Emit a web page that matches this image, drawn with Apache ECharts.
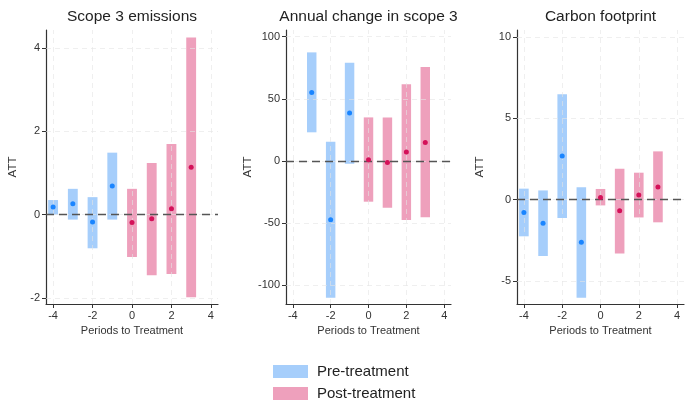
<!DOCTYPE html>
<html>
<head>
<meta charset="utf-8">
<script src="https://cdn.jsdelivr.net/npm/echarts@6/dist/echarts.min.js"></script>
<style>
html,body{margin:0;padding:0;background:#fff;}
#chart{width:685px;height:400px;}
</style>
</head>
<body>
<div id="chart"></div>
<script>
// ---- Data ----
const panelTitles = ['Scope 3 emissions', 'Annual change in scope 3', 'Carbon footprint'];
const xTickLabels = [-4, -2, 0, 2, 4];
const yTickLabels1 = [-2, 0, 2, 4];
const yTickLabels2 = [-100, -50, 0, 50, 100];
const yTickLabels3 = [-5, 0, 5, 10];

const scope3Periods = [-4, -3, -2, -1, 0, 1, 2, 3];
const scope3Att = [0.18, 0.26, -0.18, 0.69, -0.19, -0.10, 0.14, 1.14];
const scope3Lo  = [0.00, -0.12, -0.81, -0.12, -1.02, -1.46, -1.43, -1.99];
const scope3Hi  = [0.35, 0.62, 0.42, 1.49, 0.62, 1.24, 1.70, 4.26];

const annualPeriods = [-3, -2, -1, 0, 1, 2, 3];
const annualAtt = [55.2, -47.2, 38.6, 1.1, -1.1, 7.2, 15.0];
const annualLo  = [23.1, -109.9, -2.1, -32.7, -37.5, -47.5, -45.3];
const annualHi  = [87.4, 15.5, 79.1, 35.1, 35.1, 61.7, 75.6];

const carbonPeriods = [-4, -3, -2, -1, 0, 1, 2, 3];
const carbonAtt = [-0.78, -1.45, 2.68, -2.62, 0.14, -0.68, 0.29, 0.78];
const carbonLo  = [-2.25, -3.46, -1.13, -6.02, -0.35, -3.30, -1.09, -1.39];
const carbonHi  = [0.68, 0.57, 6.48, 0.76, 0.66, 1.91, 1.66, 2.97];

const legendNames = ['Pre-treatment', 'Post-treatment'];

// ---- Styling / layout ----
const FONT = 'Liberation Sans, Arial, Helvetica, sans-serif';
const barBlue = '#a6cefb';
const barPink = '#eea0bc';
const dotBlue = '#1a85ff';
const dotRed = '#d41159';
const gridColor = 'rgba(228,228,228,0.6)';

const panels = [
  {periods: scope3Periods, att: scope3Att, lo: scope3Lo, hi: scope3Hi, yTicks: yTickLabels1, ymin: -2.15, ymax: 4.44,
   grid: {left: 46, top: 30, width: 172, height: 274}, nameGap: 27},
  {periods: annualPeriods, att: annualAtt, lo: annualLo, hi: annualHi, yTicks: yTickLabels2, ymin: -115.0, ymax: 105.4,
   grid: {left: 286, top: 30, width: 165, height: 274}, nameGap: 32},
  {periods: carbonPeriods, att: carbonAtt, lo: carbonLo, hi: carbonHi, yTicks: yTickLabels3, ymin: -6.41, ymax: 10.43,
   grid: {left: 517, top: 30, width: 167, height: 274}, nameGap: 31}
];

const grids = [], xAxes = [], yAxes = [], series = [], titles = [];

function rangeRenderer(color) {
  return function (params, api) {
    const x = api.value(0), lo = api.value(1), hi = api.value(2);
    const top = api.coord([x, hi]);
    const bot = api.coord([x, lo]);
    const w = api.size([0.5, 0])[0];
    return {
      type: 'rect',
      shape: {x: top[0] - w / 2, y: top[1], width: w, height: bot[1] - top[1]},
      style: {fill: color}
    };
  };
}

panels.forEach((p, i) => {
  grids.push(Object.assign({containLabel: false}, p.grid));
  titles.push({
    text: panelTitles[i],
    left: p.grid.left + p.grid.width / 2,
    top: 9,
    textAlign: 'center',
    padding: 0,
    textStyle: {fontFamily: FONT, fontSize: 15.5, fontWeight: 'normal', color: '#222'}
  });
  xAxes.push({
    type: 'value', gridIndex: i, min: -4.36, max: 4.36,
    name: 'Periods to Treatment', nameLocation: 'middle', nameGap: 21,
    nameTextStyle: {fontFamily: FONT, fontSize: 11, color: '#333'},
    axisLine: {show: true, onZero: false, lineStyle: {color: '#333', width: 1.2}},
    axisTick: {show: true, length: 4, customValues: xTickLabels, lineStyle: {color: '#333', width: 1}},
    minorTick: {show: false},
    axisLabel: {customValues: xTickLabels, margin: 6, fontFamily: FONT, fontSize: 11, color: '#333'},
    splitLine: {show: false}
  });
  yAxes.push({
    type: 'value', gridIndex: i, min: p.ymin, max: p.ymax,
    name: 'ATT', nameLocation: 'middle', nameGap: p.nameGap, nameRotate: 90,
    nameTextStyle: {fontFamily: FONT, fontSize: 11.5, color: '#333'},
    axisLine: {show: true, onZero: false, lineStyle: {color: '#333', width: 1.2}},
    axisTick: {show: true, length: 4, customValues: p.yTicks, lineStyle: {color: '#333', width: 1}},
    minorTick: {show: false},
    axisLabel: {customValues: p.yTicks, margin: 6, fontFamily: FONT, fontSize: 11, color: '#333'},
    splitLine: {show: false}
  });

  const pre = [], post = [], preDots = [], postDots = [];
  p.periods.forEach((t, k) => {
    const row = [t, p.lo[k], p.hi[k]];
    if (t < 0) { pre.push(row); preDots.push([t, p.att[k]]); }
    else { post.push(row); postDots.push([t, p.att[k]]); }
  });

  series.push({
    name: legendNames[0], type: 'custom', xAxisIndex: i, yAxisIndex: i,
    renderItem: rangeRenderer(barBlue), itemStyle: {color: barBlue},
    encode: {x: 0, y: [1, 2]}, data: pre, z: 2, silent: true
  });
  series.push({
    name: legendNames[1], type: 'custom', xAxisIndex: i, yAxisIndex: i,
    renderItem: rangeRenderer(barPink), itemStyle: {color: barPink},
    encode: {x: 0, y: [1, 2]}, data: post, z: 2, silent: true
  });
  // light dashed gridlines at the tick values, drawn over the bars
  const gridData = xTickLabels.map(v => ({xAxis: v})).concat(p.yTicks.map(v => ({yAxis: v})));
  series.push({
    name: 'grid-' + i, type: 'scatter', xAxisIndex: i, yAxisIndex: i, data: [], z: 3, silent: true,
    markLine: {
      silent: true, symbol: 'none', animation: false, label: {show: false},
      lineStyle: {type: [5, 4], color: gridColor, width: 1},
      data: gridData
    }
  });
  series.push({
    name: 'pre-att-' + i, type: 'scatter', xAxisIndex: i, yAxisIndex: i,
    symbol: 'circle', symbolSize: 5, itemStyle: {color: dotBlue, opacity: 1},
    data: preDots, z: 5, silent: true
  });
  series.push({
    name: 'post-att-' + i, type: 'scatter', xAxisIndex: i, yAxisIndex: i,
    symbol: 'circle', symbolSize: 5, itemStyle: {color: dotRed, opacity: 1},
    data: postDots, z: 5, silent: true,
    markLine: {
      silent: true, symbol: 'none', animation: false,
      label: {show: false},
      lineStyle: {type: [8, 5], color: '#555', width: 1.3},
      data: [{yAxis: 0}]
    }
  });
});

const legendText = {fontFamily: FONT, fontSize: 15, color: '#222', padding: [0, 0, 0, 4]};
const chart = echarts.init(document.getElementById('chart'), null, {renderer: 'canvas'});
chart.setOption({
  animation: false,
  backgroundColor: '#ffffff',
  title: titles,
  grid: grids,
  xAxis: xAxes,
  yAxis: yAxes,
  legend: [
    {
      left: 273, top: 364, padding: 0, itemWidth: 35, itemHeight: 13,
      textStyle: legendText, selectedMode: false,
      data: [{name: legendNames[0], icon: 'rect', itemStyle: {color: barBlue}}]
    },
    {
      left: 273, top: 386, padding: 0, itemWidth: 35, itemHeight: 13,
      textStyle: legendText, selectedMode: false,
      data: [{name: legendNames[1], icon: 'rect', itemStyle: {color: barPink}}]
    }
  ],
  series: series
});
</script>
</body>
</html>
